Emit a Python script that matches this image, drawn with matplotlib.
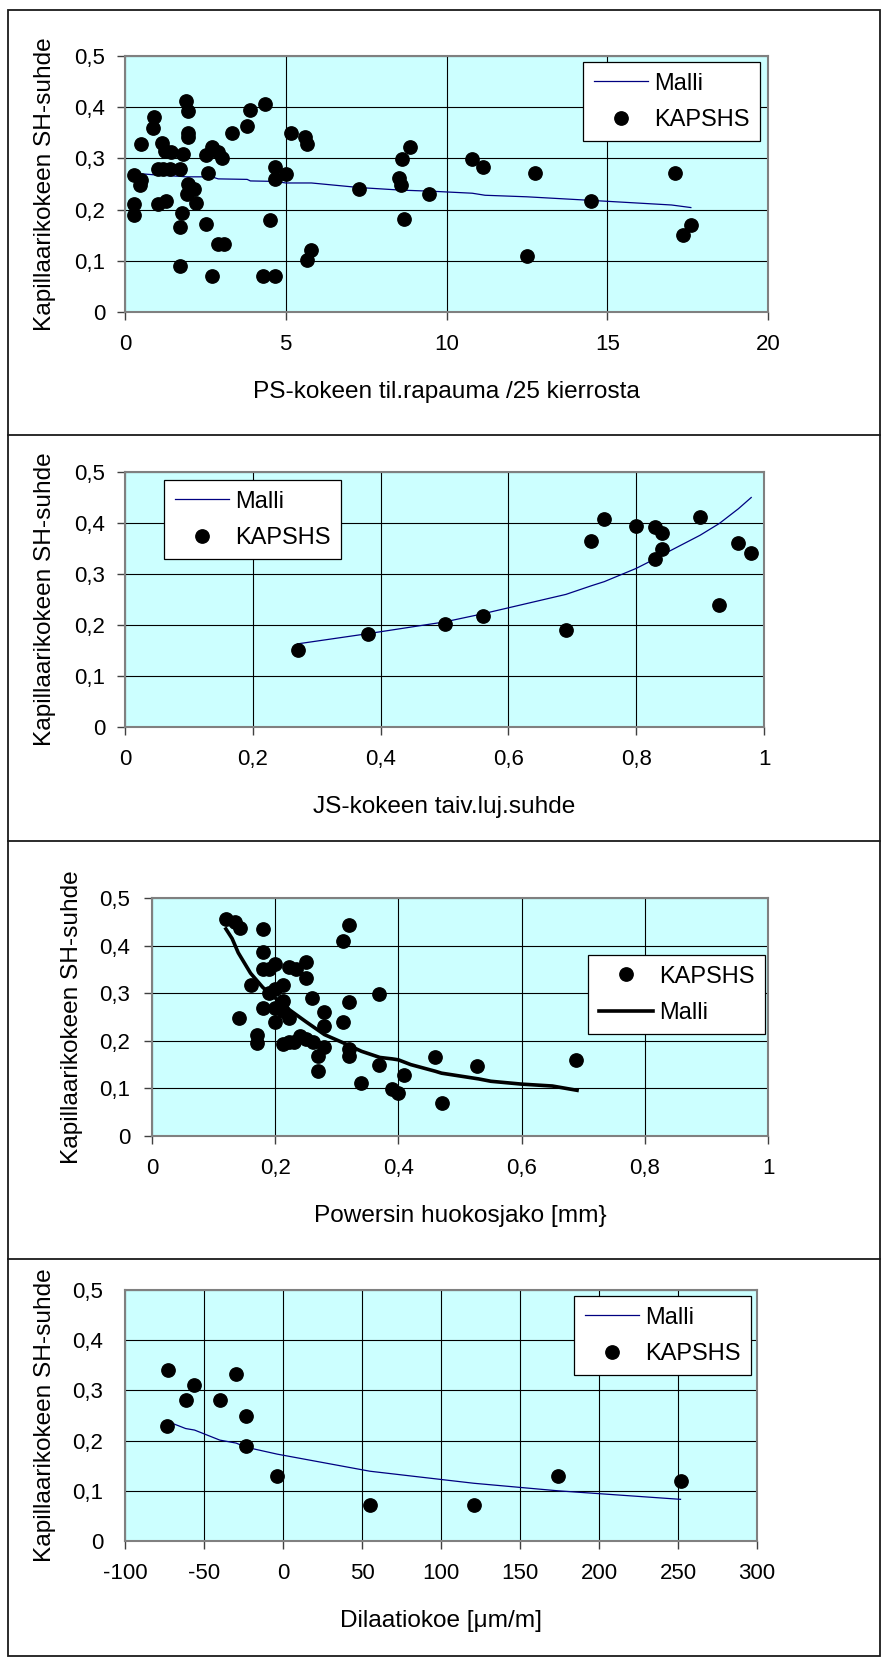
import matplotlib
matplotlib.use('Agg')
import matplotlib.pyplot as plt
from matplotlib.lines import Line2D
from matplotlib.patches import Rectangle
from matplotlib.ticker import FuncFormatter, MultipleLocator

# ---------------- data ----------------
# Panel 1: PS-kokeen til.rapauma /25 kierrosta
p1_x = [0.29, 0.49, 0.47, 0.29, 0.29, 0.49, 0.86, 0.91, 1.15, 1.25, 1.42, 1.04, 1.19, 1.40,
        1.04, 1.29, 1.79, 1.71, 1.90, 1.96, 1.97, 1.97, 1.97, 1.92, 2.15, 2.20, 1.76, 1.71,
        1.71, 2.52, 2.57, 2.52, 2.72, 2.90, 3.03, 2.88, 3.07, 2.72, 3.33, 3.81, 3.88, 4.37,
        4.50, 4.28, 4.68, 4.68, 4.68, 5.00, 5.17, 5.61, 5.67, 5.66, 5.80, 7.27, 8.51, 8.57,
        8.62, 8.87, 8.67, 9.47, 10.79, 11.15, 12.50, 12.74, 14.50, 17.10, 17.35, 17.60]
p1_y = [0.267, 0.257, 0.248, 0.211, 0.190, 0.329, 0.360, 0.380, 0.330, 0.315, 0.313, 0.279,
        0.279, 0.279, 0.210, 0.217, 0.309, 0.279, 0.412, 0.392, 0.350, 0.341, 0.250, 0.230,
        0.240, 0.213, 0.194, 0.166, 0.090, 0.306, 0.272, 0.171, 0.323, 0.313, 0.300, 0.133,
        0.133, 0.070, 0.349, 0.364, 0.395, 0.407, 0.179, 0.070, 0.283, 0.259, 0.070, 0.270,
        0.349, 0.342, 0.329, 0.101, 0.121, 0.240, 0.261, 0.248, 0.299, 0.322, 0.182, 0.230,
        0.299, 0.283, 0.109, 0.271, 0.217, 0.272, 0.151, 0.170]
p1_mx = [0.3, 0.5, 0.9, 1.7, 1.9, 2.7, 2.9, 3.8, 3.9, 4.7, 5.0, 5.8, 7.3, 8.6, 9.5, 10.8,
         11.2, 12.5, 14.5, 17.0, 17.6]
p1_my = [0.272, 0.270, 0.268, 0.265, 0.264, 0.264, 0.260, 0.259, 0.256, 0.255, 0.252, 0.252,
         0.243, 0.238, 0.236, 0.232, 0.228, 0.225, 0.218, 0.209, 0.204]

# Panel 2: JS-kokeen taiv.luj.suhde
p2_x = [0.27, 0.38, 0.50, 0.56, 0.69, 0.73, 0.75, 0.80, 0.83, 0.84, 0.84, 0.83, 0.90, 0.93,
        0.96, 0.98]
p2_y = [0.151, 0.182, 0.202, 0.218, 0.190, 0.364, 0.407, 0.395, 0.392, 0.380, 0.350, 0.330,
        0.411, 0.240, 0.360, 0.341]
p2_mx = [0.27, 0.38, 0.50, 0.56, 0.69, 0.73, 0.75, 0.80, 0.83, 0.84, 0.90, 0.93, 0.96, 0.98]
p2_my = [0.163, 0.183, 0.206, 0.222, 0.260, 0.277, 0.285, 0.311, 0.330, 0.337, 0.376, 0.399,
         0.428, 0.450]

# Panel 3: Powersin huokosjako
p3_x = [0.120, 0.134, 0.143, 0.181, 0.181, 0.181, 0.190, 0.200, 0.161, 0.190, 0.200, 0.213,
        0.222, 0.233, 0.250, 0.250, 0.181, 0.200, 0.213, 0.213, 0.222, 0.199, 0.142, 0.171,
        0.171, 0.212, 0.222, 0.231, 0.241, 0.250, 0.261, 0.259, 0.279, 0.279, 0.279, 0.270,
        0.270, 0.310, 0.320, 0.320, 0.310, 0.320, 0.320, 0.368, 0.368, 0.340, 0.390, 0.400,
        0.409, 0.460, 0.470, 0.528, 0.689]
p3_y = [0.456, 0.449, 0.438, 0.435, 0.386, 0.351, 0.351, 0.362, 0.318, 0.301, 0.308, 0.318,
        0.355, 0.351, 0.365, 0.331, 0.269, 0.269, 0.283, 0.262, 0.248, 0.239, 0.248, 0.213,
        0.196, 0.194, 0.198, 0.198, 0.211, 0.204, 0.197, 0.290, 0.260, 0.232, 0.187, 0.169,
        0.136, 0.410, 0.443, 0.281, 0.239, 0.182, 0.169, 0.298, 0.150, 0.112, 0.099, 0.091,
        0.128, 0.166, 0.070, 0.148, 0.160]
p3_mx = [0.12, 0.13, 0.14, 0.16, 0.18, 0.20, 0.22, 0.25, 0.28, 0.31, 0.34, 0.37, 0.39, 0.40,
         0.42, 0.46, 0.47, 0.53, 0.55, 0.60, 0.65, 0.69]
p3_my = [0.435, 0.415, 0.385, 0.342, 0.312, 0.290, 0.268, 0.240, 0.213, 0.196, 0.178, 0.165,
         0.162, 0.160, 0.150, 0.136, 0.132, 0.120, 0.115, 0.109, 0.105, 0.096]

# Panel 4: Dilaatiokoe
p4_x = [-73, -73.7, -61.2, -56.3, -39.9, -29.6, -23.6, -23.6, -3.6, 55, 120.8, 174.1, 251.6]
p4_y = [0.341, 0.229, 0.281, 0.311, 0.281, 0.332, 0.249, 0.189, 0.130, 0.072, 0.072, 0.130,
        0.119]
p4_mx = [-73, -61.6, -56, -40, -29.6, -23.6, -3.6, 55, 120.8, 174, 251.6]
p4_my = [0.238, 0.224, 0.221, 0.201, 0.195, 0.187, 0.173, 0.139, 0.115, 0.100, 0.083]

y_label = "Kapillaarikokeen SH-suhde"
x_labels = ["PS-kokeen til.rapauma /25 kierrosta", "JS-kokeen taiv.luj.suhde",
            "Powersin huokosjako [mm}", "Dilaatiokoe [\u03bcm/m]"]

# ---------------- figure ----------------
W, H = 881, 1657
DPI = 100
plt.rcParams['font.family'] = ['Liberation Sans', 'DejaVu Sans']

fig = plt.figure(figsize=(W / DPI, H / DPI), dpi=DPI)

BG = '#CCFFFF'
NAVY = '#000080'
TICK_FS = 16
LAB_FS = 17.6
LEG_FS = 17


def comma(v, pos=None):
    s = ('%g' % round(v, 6))
    return s.replace('.', ',')


def make_axes(l, t, r, b):
    ax = fig.add_axes([l / W, 1 - b / H, (r - l) / W, (b - t) / H])
    ax.set_facecolor(BG)
    for sp in ax.spines.values():
        sp.set_color('#808080')
        sp.set_linewidth(1.5)
    ax.grid(True, color='black', linewidth=0.8)
    ax.set_axisbelow(True)
    ax.tick_params(direction='out', length=6, width=1, color='#404040',
                   labelsize=TICK_FS)
    return ax


def finish(ax, xlabel, l, t, r, b, ylab_x, ypad=8.3, xpad=10.0, ylen=6):
    h = b - t
    w = r - l
    ax.set_ylim(0, 0.5)
    ax.yaxis.set_major_locator(MultipleLocator(0.1))
    ax.yaxis.set_major_formatter(FuncFormatter(comma))
    ax.xaxis.set_major_formatter(FuncFormatter(comma))
    ax.tick_params(axis='y', pad=ypad, length=ylen)
    ax.tick_params(axis='x', pad=xpad)
    ax.set_ylabel(y_label, fontsize=LAB_FS, va='center', ha='center')
    ax.yaxis.set_label_coords((ylab_x - l) / w, 0.5)
    ax.set_xlabel(xlabel, fontsize=LAB_FS, va='center', ha='center')
    ax.xaxis.set_label_coords(0.5, -80.0 / h)


def legend(ax, handles, labels, lx, ty):
    leg = ax.legend(handles, labels, loc='upper left',
                    bbox_to_anchor=(lx / W, 1 - ty / H),
                    bbox_transform=fig.transFigure, borderaxespad=0,
                    fontsize=LEG_FS, fancybox=False, framealpha=1,
                    edgecolor='black', handlelength=2.3, handletextpad=0.25,
                    borderpad=0.45, labelspacing=0.6)
    leg.get_frame().set_linewidth(0.9)
    return leg


MS = 9.6

# Panel 1
L, T, R, B = 125, 56, 768, 312
ax1 = make_axes(L, T, R, B)
ln1, = ax1.plot(p1_mx, p1_my, color=NAVY, lw=0.9, zorder=3)
sc1, = ax1.plot(p1_x, p1_y, 'o', color='black', ms=MS, ls='none', zorder=4)
ax1.set_xlim(0, 20)
ax1.xaxis.set_major_locator(MultipleLocator(5))
finish(ax1, x_labels[0], L, T, R, B, 45)
legend(ax1, [ln1, sc1], ['Malli', 'KAPSHS'], 583, 62)

# Panel 2
L, T, R, B = 125, 472, 764, 727
ax2 = make_axes(L, T, R, B)
ln2, = ax2.plot(p2_mx, p2_my, color=NAVY, lw=0.9, zorder=3)
sc2, = ax2.plot(p2_x, p2_y, 'o', color='black', ms=MS, ls='none', zorder=4)
ax2.set_xlim(0, 1)
ax2.xaxis.set_major_locator(MultipleLocator(0.2))
finish(ax2, x_labels[1], L, T, R, B, 45)
legend(ax2, [ln2, sc2], ['Malli', 'KAPSHS'], 164, 480)

# Panel 3
L, T, R, B = 152, 898, 768, 1136
ax3 = make_axes(L, T, R, B)
sc3, = ax3.plot(p3_x, p3_y, 'o', color='black', ms=MS, ls='none', zorder=3)
ln3, = ax3.plot(p3_mx, p3_my, color='black', lw=2.6, zorder=4)
ax3.set_xlim(0, 1)
ax3.xaxis.set_major_locator(MultipleLocator(0.2))
finish(ax3, x_labels[2], L, T, R, B, 72, ypad=9.8)
legend(ax3, [sc3, ln3], ['KAPSHS', 'Malli'], 588, 955)

# Panel 4
L, T, R, B = 125, 1290, 757, 1541
ax4 = make_axes(L, T, R, B)
ln4, = ax4.plot(p4_mx, p4_my, color=NAVY, lw=0.9, zorder=3)
sc4, = ax4.plot(p4_x, p4_y, 'o', color='black', ms=MS, ls='none', zorder=4)
ax4.set_xlim(-100, 300)
ax4.xaxis.set_major_locator(MultipleLocator(50))
finish(ax4, x_labels[3], L, T, R, B, 45, ypad=15.5, ylen=0)
ax4.set_xticks(range(-100, 301, 50))
ax4.set_xticklabels([str(v) for v in range(-100, 301, 50)])
legend(ax4, [ln4, sc4], ['Malli', 'KAPSHS'], 574, 1296)

# outer frame and separators
fig.add_artist(Rectangle((8 / W, 1 - 1656 / H), (879.5 - 8) / W, (1656 - 10) / H,
                         transform=fig.transFigure, fill=False,
                         edgecolor='#1a1a1a', linewidth=1.3))
for yy in (435, 841, 1259):
    fig.add_artist(Line2D([8 / W, 879.5 / W], [1 - yy / H, 1 - yy / H],
                          transform=fig.transFigure, color='#1a1a1a', linewidth=1.3))

fig.savefig('out.png', dpi=DPI)
